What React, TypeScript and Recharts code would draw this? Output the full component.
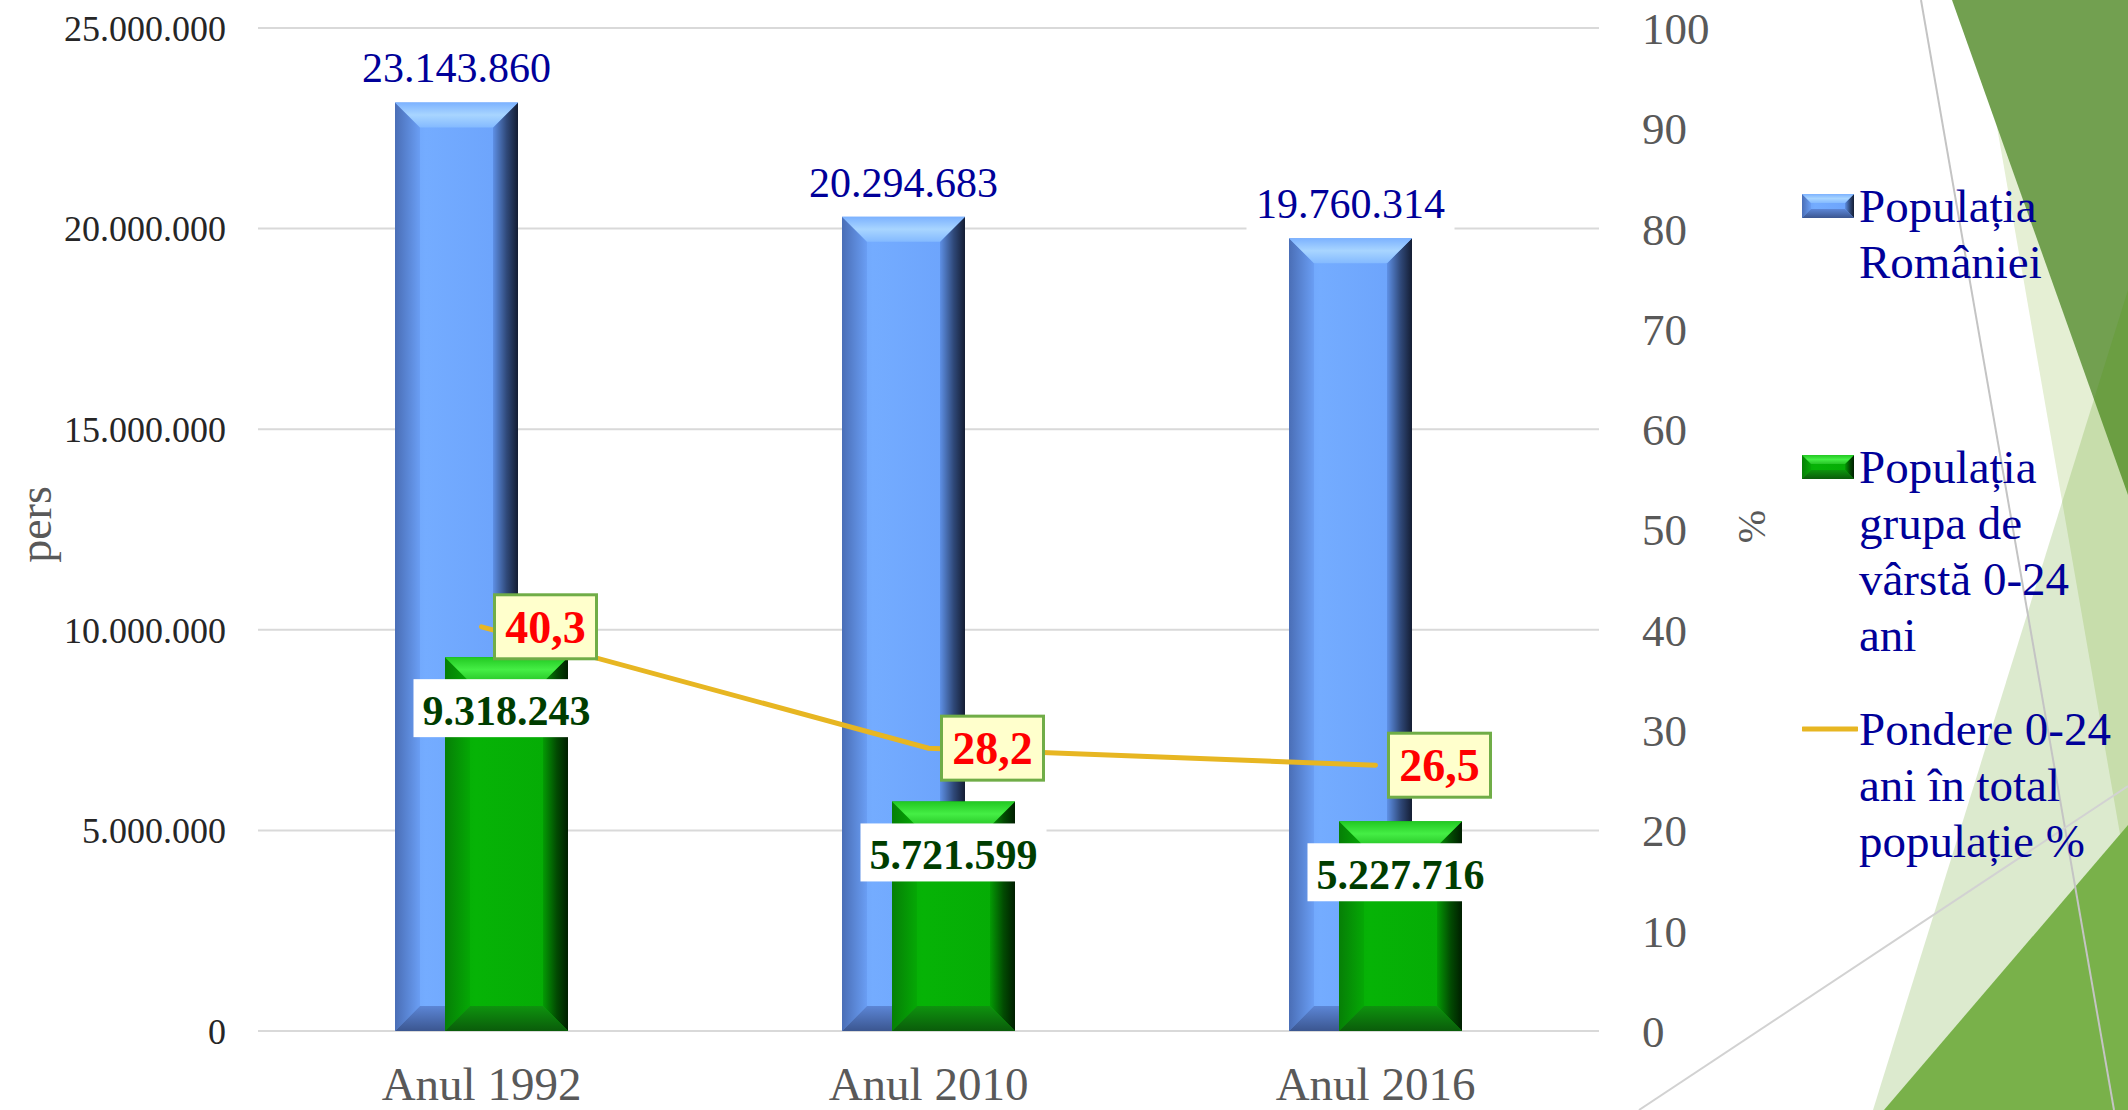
import React from 'react';
import { ComposedChart, Bar, Line, XAxis, YAxis, CartesianGrid, LabelList } from 'recharts';

// chart data
const years = ['Anul 1992', 'Anul 2010', 'Anul 2016'];
const populatieTotala = [23143860, 20294683, 19760314];
const populatie024 = [9318243, 5721599, 5227716];
const pondere024 = [40.3, 28.2, 26.5];

const persTicks = [0, 5000000, 10000000, 15000000, 20000000, 25000000];
const procentTicks = [0, 10, 20, 30, 40, 50, 60, 70, 80, 90, 100];

const legendItems = [
  { key: 'total', kind: 'blue', lines: ['Populația', 'României'] },
  { key: 'tineri', kind: 'green', lines: ['Populația', 'grupa de', 'vârstă 0-24', 'ani'] },
  { key: 'pondere', kind: 'line', lines: ['Pondere 0-24', 'ani în total', 'populație %'] },
];

const SERIF = '"Liberation Serif", "Times New Roman", serif';

const chartData = years.map((year, i) => ({
  year,
  total: populatieTotala[i],
  tineri: populatie024[i],
  pondere: pondere024[i],
}));

const fmtPers = (v: number) => String(v).replace(/\B(?=(\d{3})+(?!\d))/g, '.');
const fmtProc = (v: number) => v.toFixed(1).replace('.', ',');

// bevelled bar like the Office "angle" bevel
const BevelBar = (props: any) => {
  const { x, y, width, height, tone, bevel = 25 } = props;
  if (!height || height <= 0) return null;
  const b = Math.min(bevel, width / 2, height / 2);
  const x2 = x + width;
  const y2 = y + height;
  return (
    <g>
      <rect x={x} y={y} width={width} height={height} fill={`url(#${tone}-face)`} />
      <polygon points={`${x},${y} ${x + b},${y + b} ${x + b},${y2 - b} ${x},${y2}`} fill={`url(#${tone}-left)`} />
      <polygon points={`${x2},${y} ${x2},${y2} ${x2 - b},${y2 - b} ${x2 - b},${y + b}`} fill={`url(#${tone}-right)`} />
      <polygon points={`${x},${y} ${x2},${y} ${x2 - b},${y + b} ${x + b},${y + b}`} fill={`url(#${tone}-top)`} />
      <polygon points={`${x},${y2} ${x + b},${y2 - b} ${x2 - b},${y2 - b} ${x2},${y2}`} fill={`url(#${tone}-bottom)`} />
    </g>
  );
};

const BlueLabel = (props: any) => {
  const { x, y, width, value } = props;
  const cx = Number(x) + Number(width) / 2;
  const top = Number(y);
  return (
    <g>
      <rect x={cx - 104} y={top - 64} width={208} height={60} fill="#ffffff" />
      <text x={cx} y={top - 20} textAnchor="middle" fontSize={42} fontFamily={SERIF} fill="#000099">
        {fmtPers(value)}
      </text>
    </g>
  );
};

const GreenLabel = (props: any) => {
  const { x, y, width, value } = props;
  const cx = Number(x) + Number(width) / 2;
  const top = Number(y);
  return (
    <g>
      <rect x={cx - 93} y={top + 22} width={186} height={58} fill="#ffffff" />
      <text x={cx} y={top + 68} textAnchor="middle" fontSize={42} fontWeight="bold" fontFamily={SERIF} fill="#003D00">
        {fmtPers(value)}
      </text>
    </g>
  );
};

const PondereLabel = (props: any) => {
  const { x, y, value } = props;
  const px = Number(x);
  const py = Number(y);
  return (
    <g>
      <rect x={px + 13} y={py - 32} width={102} height={64} fill="#FFFFCC" stroke="#70AD47" strokeWidth={3} />
      <text x={px + 64} y={py + 16} textAnchor="middle" fontSize={46} fontWeight="bold" fontFamily={SERIF} fill="#FF0000">
        {fmtProc(value)}
      </text>
    </g>
  );
};

const Gradients = () => (
  <defs>
    <linearGradient id="blue-face" x1="0" y1="0" x2="1" y2="0">
      <stop offset="0" stopColor="#6A9EF4" />
      <stop offset="0.25" stopColor="#74ACFF" />
      <stop offset="1" stopColor="#6BA2FB" />
    </linearGradient>
    <linearGradient id="blue-left" x1="0" y1="0" x2="1" y2="0">
      <stop offset="0" stopColor="#4A6EB6" />
      <stop offset="1" stopColor="#6A9EF4" />
    </linearGradient>
    <linearGradient id="blue-right" x1="0" y1="0" x2="1" y2="0">
      <stop offset="0" stopColor="#5E90E6" />
      <stop offset="0.55" stopColor="#2F4878" />
      <stop offset="1" stopColor="#141D33" />
    </linearGradient>
    <linearGradient id="blue-top" x1="0" y1="0" x2="0" y2="1">
      <stop offset="0" stopColor="#7CB2FF" />
      <stop offset="0.5" stopColor="#A8D5FF" />
      <stop offset="1" stopColor="#84BAFF" />
    </linearGradient>
    <linearGradient id="blue-bottom" x1="0" y1="0" x2="0" y2="1">
      <stop offset="0" stopColor="#5C86D6" />
      <stop offset="1" stopColor="#3B5690" />
    </linearGradient>

    <linearGradient id="green-face" x1="0" y1="0" x2="1" y2="0">
      <stop offset="0" stopColor="#05A805" />
      <stop offset="0.25" stopColor="#06B306" />
      <stop offset="1" stopColor="#05AA05" />
    </linearGradient>
    <linearGradient id="green-left" x1="0" y1="0" x2="1" y2="0">
      <stop offset="0" stopColor="#067F06" />
      <stop offset="1" stopColor="#05A805" />
    </linearGradient>
    <linearGradient id="green-right" x1="0" y1="0" x2="1" y2="0">
      <stop offset="0" stopColor="#049B04" />
      <stop offset="0.55" stopColor="#024A02" />
      <stop offset="1" stopColor="#001E00" />
    </linearGradient>
    <linearGradient id="green-top" x1="0" y1="0" x2="0" y2="1">
      <stop offset="0" stopColor="#22C822" />
      <stop offset="0.5" stopColor="#45EE45" />
      <stop offset="1" stopColor="#26C426" />
    </linearGradient>
    <linearGradient id="green-bottom" x1="0" y1="0" x2="0" y2="1">
      <stop offset="0" stopColor="#0E930E" />
      <stop offset="1" stopColor="#0A5C0A" />
    </linearGradient>
  </defs>
);

// slide theme decoration on the right edge
const SlideBackground = () => (
  <svg width={2128} height={1110} style={{ position: 'absolute', left: 0, top: 0 }}>
    <Gradients />
    <polygon points="1993,104 2128,880 2128,104" fill="#E5EFD4" />
    <polygon points="1952,0 2128,0 2128,495" fill="#72A050" />
    <polygon points="1873,1110 2128,290 2128,1110" fill="rgba(80,150,10,0.2)" />
    <polygon points="1884,1110 2128,825 2128,1110" fill="#79B14A" />
    <line x1={1921} y1={0} x2={2114} y2={1110} stroke="#C4C4C4" strokeWidth={2} />
    <line x1={1639} y1={1110} x2={2128} y2={786} stroke="#D2D2D2" strokeWidth={2} />
  </svg>
);

const LegendIcon = ({ kind }: { kind: string }) => (
  <svg width={56} height={30} style={{ position: 'absolute', left: 0, top: 13 }}>
    {kind === 'line' ? (
      <line x1={1} y1={15} x2={55} y2={15} stroke="#E7B622" strokeWidth={5} strokeLinecap="round" />
    ) : (
      <BevelBar x={0} y={3} width={52} height={24} tone={kind} bevel={9} />
    )}
  </svg>
);

const legendTops = [178, 439, 701];

const SideLegend = () => (
  <div style={{ position: 'absolute', left: 1802, top: 0 }}>
    {legendItems.map((item, i) => (
      <div key={item.key} style={{ position: 'absolute', left: 0, top: legendTops[i], width: 320 }}>
        <LegendIcon kind={item.kind} />
        <div
          style={{
            position: 'absolute',
            left: 57,
            top: 0,
            fontFamily: SERIF,
            fontSize: 47,
            lineHeight: '56px',
            color: '#000099',
            whiteSpace: 'nowrap',
          }}
        >
          {item.lines.map((l) => (
            <div key={l}>{l}</div>
          ))}
        </div>
      </div>
    ))}
  </div>
);

const App: React.FC = () => {
  return (
    <div style={{ position: 'absolute', left: 0, top: 0, width: 2128, height: 1110, overflow: 'hidden', background: '#ffffff' }}>
      <SlideBackground />
      <div style={{ position: 'absolute', left: 0, top: 0 }}>
        <ComposedChart
          width={2128}
          height={1110}
          data={chartData}
          margin={{ top: 28, right: 329, bottom: 0, left: 0 }}
          barGap={-73}
        >
          <CartesianGrid yAxisId="left" vertical={false} stroke="#D9D9D9" strokeWidth={2} />
          <XAxis
            dataKey="year"
            height={79}
            axisLine={false}
            tickLine={false}
            tickSize={0}
            tickMargin={36}
            tick={{ fill: '#595959', fontSize: 47, fontFamily: SERIF }}
          />
          <YAxis
            yAxisId="left"
            width={258}
            domain={[0, 25000000]}
            ticks={persTicks}
            interval={0}
            axisLine={false}
            tickLine={false}
            tickSize={0}
            tickMargin={32}
            tickFormatter={(v: number) => fmtPers(v)}
            tick={{ fill: '#262626', fontSize: 36, fontFamily: SERIF }}
            label={{
              content: (p: any) => {
                const vb = p.viewBox || { x: 0, y: 0, width: 0, height: 0 };
                const lx = vb.x + 35;
                const ly = vb.y + vb.height / 2 - 5;
                return (
                  <text
                    x={lx}
                    y={ly}
                    transform={`rotate(-90 ${lx} ${ly})`}
                    textAnchor="middle"
                    dominantBaseline="central"
                    fontSize={46}
                    fontFamily={SERIF}
                    fill="#595959"
                  >
                    pers
                  </text>
                );
              },
            }}
          />
          <YAxis
            yAxisId="right"
            orientation="right"
            width={200}
            domain={[0, 100]}
            ticks={procentTicks}
            interval={0}
            axisLine={false}
            tickLine={false}
            tickSize={0}
            tickMargin={43}
            tick={{ fill: '#595959', fontSize: 45, fontFamily: SERIF }}
            label={{
              content: (p: any) => {
                const vb = p.viewBox || { x: 0, y: 0, width: 0, height: 0 };
                const lx = vb.x + 152;
                const ly = vb.y + vb.height / 2 - 3;
                return (
                  <text
                    x={lx}
                    y={ly}
                    transform={`rotate(-90 ${lx} ${ly})`}
                    textAnchor="middle"
                    dominantBaseline="central"
                    fontSize={40}
                    fontFamily={SERIF}
                    fill="#595959"
                  >
                    %
                  </text>
                );
              },
            }}
          />
          <Bar
            yAxisId="left"
            dataKey="total"
            name="Populația României"
            barSize={123}
            isAnimationActive={false}
            shape={(p: any) => <BevelBar {...p} tone="blue" />}
          >
            <LabelList dataKey="total" content={BlueLabel} />
          </Bar>
          <Bar
            yAxisId="left"
            dataKey="tineri"
            name="Populația grupa de vârstă 0-24 ani"
            barSize={123}
            isAnimationActive={false}
            shape={(p: any) => <BevelBar {...p} tone="green" />}
          >
            <LabelList dataKey="tineri" content={GreenLabel} />
          </Bar>
          <Line
            yAxisId="right"
            dataKey="pondere"
            name="Pondere 0-24 ani în total populație %"
            stroke="#E7B622"
            strokeWidth={5}
            strokeLinecap="round"
            dot={false}
            activeDot={false}
            isAnimationActive={false}
          >
            <LabelList dataKey="pondere" content={PondereLabel} />
          </Line>
        </ComposedChart>
      </div>
      <SideLegend />
    </div>
  );
};

export default App;
